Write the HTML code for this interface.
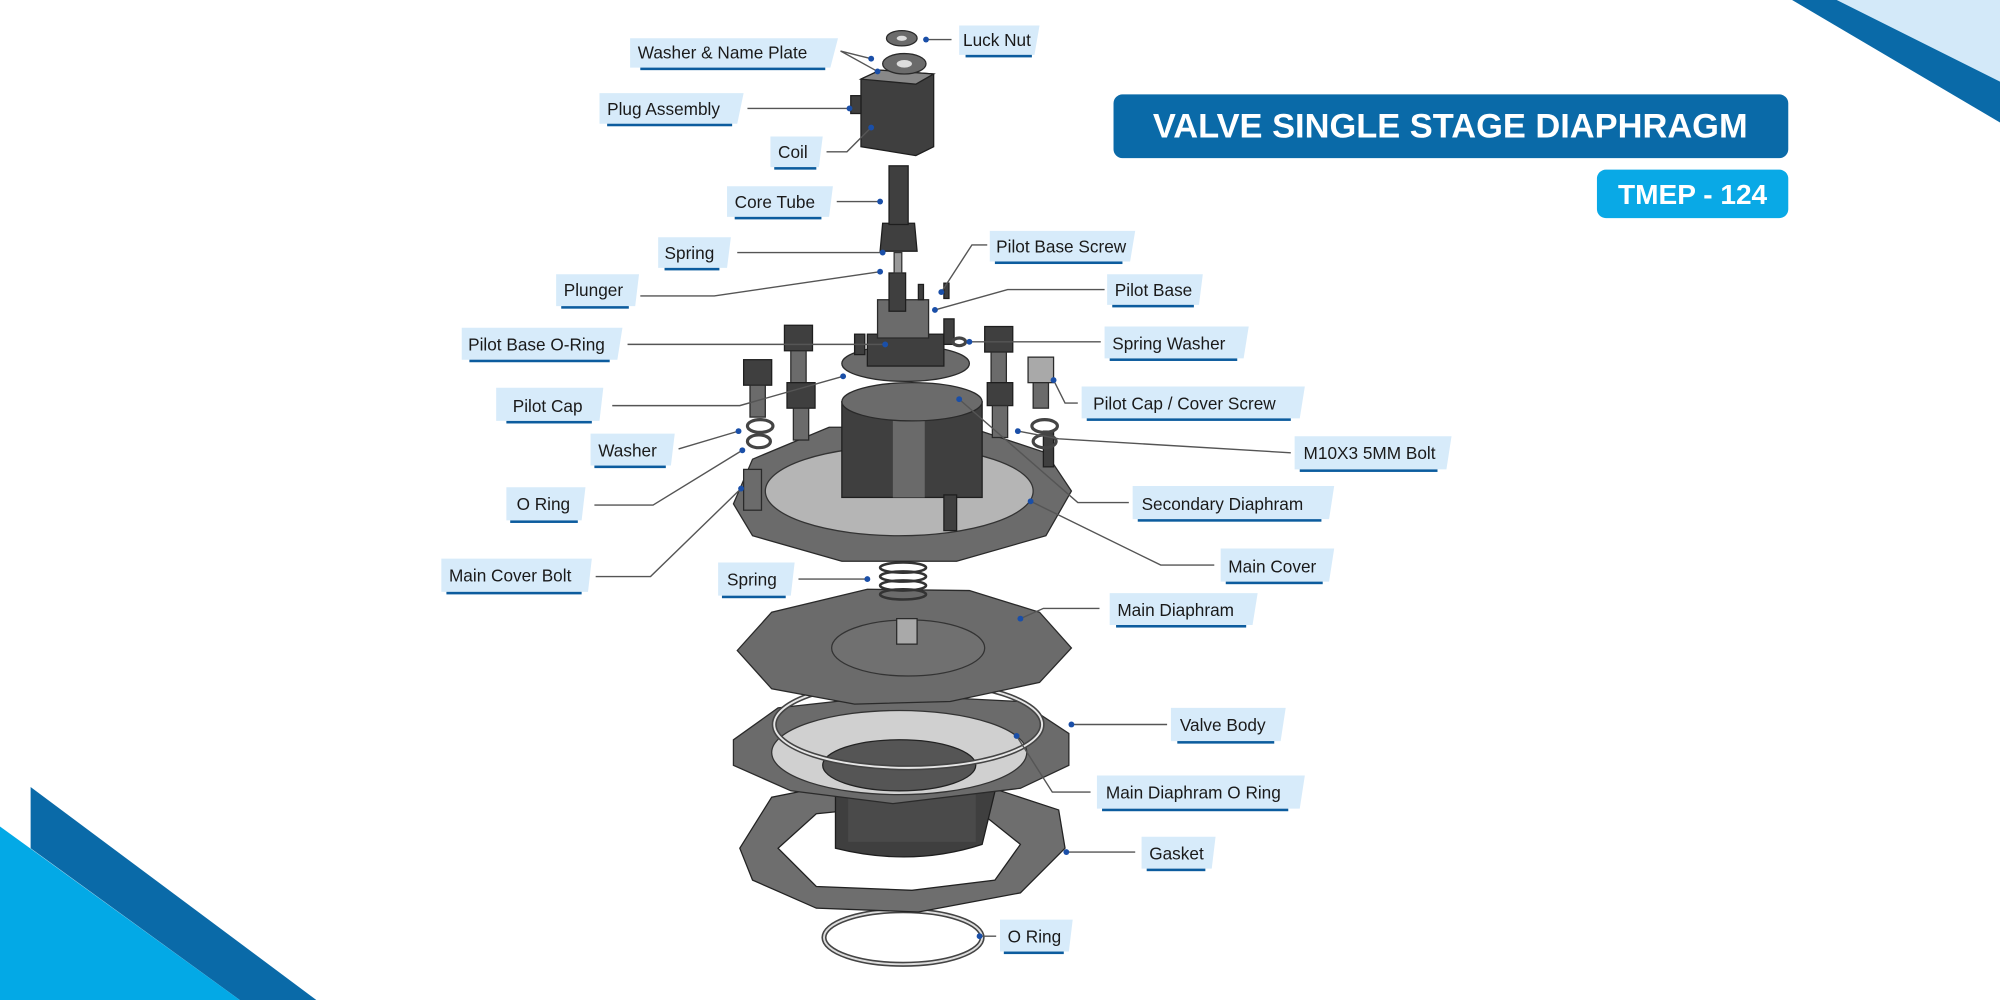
<!DOCTYPE html>
<html><head><meta charset="utf-8"><style>
html,body{margin:0;padding:0;background:#fff;}
svg{display:block;}
text{font-family:"Liberation Sans",sans-serif;}
.lb{fill:#d7ebfa;}
.ul{fill:#0c5c9e;}
.t{font-size:13.5px;fill:#1a1a1a;}
.ln{stroke:#555;stroke-width:1.1;fill:none;}
.dot{fill:#1a4fa8;}
.m{fill:#6b6b6b;stroke:#2a2a2a;stroke-width:1;}
.d{fill:#3f3f3f;stroke:#1e1e1e;stroke-width:1;}
.l{fill:#a9a9a9;stroke:#2a2a2a;stroke-width:1;}
</style></head><body>
<svg width="2000" height="1000" viewBox="0 0 1568 784" xmlns="http://www.w3.org/2000/svg">
<rect width="1568" height="784" fill="#fff"/>
<!-- corner decorations -->
<polygon points="1440,0 1568,0 1568,64" fill="#d3e9f9"/>
<polygon points="1405,0 1440,0 1568,64 1568,96" fill="#0a6aa8"/>
<polygon points="24,617 248,784 188,784 24,665" fill="#0a6aa8"/>
<polygon points="0,648 188,784 0,784" fill="#03a9e6"/>
<!-- title -->
<rect x="873" y="74" width="529" height="50" rx="7" fill="#0a6aa8"/>
<text x="1137" y="108" text-anchor="middle" font-size="27" font-weight="bold" fill="#fff">VALVE SINGLE STAGE DIAPHRAGM</text>
<rect x="1252" y="133" width="150" height="38" rx="7" fill="#09a9e6"/>
<text x="1327" y="160" text-anchor="middle" font-size="22" font-weight="bold" fill="#fff">TMEP - 124</text>

<!-- machine drawing (approximation) -->
<g>
<!-- bottom O ring -->
<ellipse cx="708" cy="735" rx="62" ry="21" fill="none" stroke="#444" stroke-width="4"/>
<ellipse cx="708" cy="735" rx="62" ry="21" fill="none" stroke="#ddd" stroke-width="1.5"/>
<!-- gasket -->
<path d="M580,665 L605,625 L670,612 L760,612 L830,635 L835,665 L800,700 L720,715 L640,712 L590,690 Z M610,665 L640,638 L700,632 L770,638 L800,662 L780,690 L715,698 L640,695 Z" fill="#6e6e6e" stroke="#222" fill-rule="evenodd"/>
<!-- valve body -->
<path d="M655,600 L655,665 Q715,680 770,662 L785,600 Z" class="d"/>
<rect x="665" y="600" width="100" height="60" fill="#4a4a4a"/>
<path d="M575,580 L610,555 L700,545 L800,550 L838,575 L838,600 L800,618 L700,630 L620,620 L575,600 Z" class="m"/>
<ellipse cx="705" cy="590" rx="100" ry="33" fill="#d0d0d0" stroke="#333"/>
<ellipse cx="705" cy="600" rx="60" ry="20" fill="#555" stroke="#222"/>
<!-- big O ring -->
<ellipse cx="712" cy="568" rx="105" ry="34" fill="none" stroke="#444" stroke-width="4"/>
<ellipse cx="712" cy="568" rx="105" ry="34" fill="none" stroke="#e6e6e6" stroke-width="1.5"/>
<!-- main diaphragm -->
<path d="M578,510 L605,480 L680,462 L760,463 L815,480 L840,508 L815,535 L745,550 L670,552 L605,540 Z" class="m"/>
<ellipse cx="712" cy="508" rx="60" ry="22" fill="#707070" stroke="#333"/>
<rect x="703" y="485" width="16" height="20" class="l"/>
<!-- spring -->
<g stroke="#333" stroke-width="2" fill="none">
<ellipse cx="708" cy="445" rx="18" ry="4"/><ellipse cx="708" cy="452" rx="18" ry="4"/><ellipse cx="708" cy="459" rx="18" ry="4"/><ellipse cx="708" cy="466" rx="18" ry="4"/></g>
<!-- main cover -->
<path d="M575,395 L590,360 L650,335 L760,335 L820,355 L840,385 L820,420 L750,440 L660,440 L590,420 Z" class="m"/>
<ellipse cx="705" cy="385" rx="105" ry="35" fill="#b5b5b5" stroke="#333"/>
<rect x="660" y="315" width="110" height="75" class="d"/>
<rect x="700" y="320" width="25" height="70" fill="#6a6a6a"/>
<ellipse cx="715" cy="315" rx="55" ry="15" class="m"/>
<!-- pilot cap / base -->
<ellipse cx="710" cy="285" rx="50" ry="14" class="m"/>
<rect x="680" y="262" width="60" height="25" class="d"/>
<rect x="688" y="235" width="40" height="30" class="m"/>
<!-- plunger, spring, core tube -->
<rect x="697" y="214" width="13" height="30" class="d"/>
<rect x="701" y="198" width="6" height="16" fill="#999" stroke="#333"/>
<path d="M692,175 L717,175 L719,197 L690,197 Z" class="d"/>
<rect x="697" y="130" width="15" height="46" class="d"/>
<!-- coil -->
<path d="M675,62 L690,55 L732,58 L732,115 L718,122 L675,115 Z" class="d"/>
<path d="M675,62 L690,55 L732,58 L718,66 Z" fill="#888" stroke="#222"/>
<rect x="667" y="75" width="8" height="14" class="d"/>
<!-- plate & nut -->
<ellipse cx="709" cy="50" rx="17" ry="8" class="m"/><ellipse cx="709" cy="50" rx="6" ry="3" fill="#ddd"/>
<ellipse cx="707" cy="30" rx="12" ry="6" class="m"/><ellipse cx="707" cy="30" rx="4" ry="2" fill="#ddd"/>
<!-- bolts -->
<g>
<rect x="615" y="255" width="22" height="20" class="d"/><rect x="620" y="275" width="12" height="25" class="m"/>
<rect x="583" y="282" width="22" height="20" class="d"/><rect x="588" y="302" width="12" height="25" class="m"/>
<rect x="617" y="300" width="22" height="20" class="d"/><rect x="622" y="320" width="12" height="25" class="m"/>
<rect x="772" y="256" width="22" height="20" class="d"/><rect x="777" y="276" width="12" height="25" class="m"/>
<rect x="806" y="280" width="20" height="20" class="l"/><rect x="810" y="300" width="12" height="20" class="m"/>
<rect x="774" y="300" width="20" height="18" class="d"/><rect x="778" y="318" width="12" height="25" class="m"/>
<rect x="818" y="338" width="8" height="28" class="d"/>
<rect x="583" y="368" width="14" height="32" class="m"/>
<rect x="740" y="388" width="10" height="28" class="d"/>
<rect x="740" y="250" width="8" height="20" class="d"/>
<rect x="720" y="223" width="4" height="12" class="d"/><rect x="740" y="222" width="4" height="12" class="d"/>
<rect x="670" y="262" width="8" height="16" class="d"/>
</g>
<g fill="none" stroke="#444" stroke-width="2.5">
<ellipse cx="596" cy="334" rx="10" ry="5"/><ellipse cx="595" cy="346" rx="9" ry="5"/>
<ellipse cx="819" cy="334" rx="10" ry="5"/><ellipse cx="819" cy="346" rx="9" ry="5"/>
<ellipse cx="752" cy="268" rx="5" ry="3"/>
</g>
</g>

<!-- labels -->
<g>
<!-- helper: box, underline, text -->
<polygon class="lb" points="752,20 815,20 811,43 752,43"/><rect class="ul" x="757" y="43" width="52" height="2"/><text class="t" x="755" y="36">Luck Nut</text>
<line class="ln" x1="727" y1="31" x2="746" y2="31"/><circle class="dot" cx="726" cy="31" r="2.3"/>

<polygon class="lb" points="494,30 657,30 651,53 494,53"/><rect class="ul" x="502" y="53" width="145" height="2"/><text class="t" x="500" y="46">Washer &amp; Name Plate</text>
<polyline class="ln" points="683,46 659,40 688,56"/><circle class="dot" cx="683" cy="46" r="2.3"/><circle class="dot" cx="688" cy="56" r="2.3"/>

<polygon class="lb" points="470,73 583,73 578,97 470,97"/><rect class="ul" x="476" y="97" width="98" height="2"/><text class="t" x="476" y="90">Plug Assembly</text>
<line class="ln" x1="586" y1="85" x2="666" y2="85"/><circle class="dot" cx="666" cy="85" r="2.3"/>

<polygon class="lb" points="604,107 645,107 642,131 604,131"/><rect class="ul" x="607" y="131" width="33" height="2"/><text class="t" x="610" y="124">Coil</text>
<polyline class="ln" points="648,119 664,119 683,100"/><circle class="dot" cx="683" cy="100" r="2.3"/>

<polygon class="lb" points="570,146 653,146 650,170 570,170"/><rect class="ul" x="576" y="170" width="68" height="2"/><text class="t" x="576" y="163">Core Tube</text>
<line class="ln" x1="656" y1="158" x2="690" y2="158"/><circle class="dot" cx="690" cy="158" r="2.3"/>

<polygon class="lb" points="516,186 573,186 570,210 516,210"/><rect class="ul" x="521" y="210" width="43" height="2"/><text class="t" x="521" y="203">Spring</text>
<line class="ln" x1="578" y1="198" x2="692" y2="198"/><circle class="dot" cx="692" cy="198" r="2.3"/>

<polygon class="lb" points="436,215 501,215 498,240 436,240"/><rect class="ul" x="440" y="240" width="53" height="2"/><text class="t" x="442" y="232">Plunger</text>
<polyline class="ln" points="502,232 560,232 690,213"/><circle class="dot" cx="690" cy="213" r="2.3"/>

<polygon class="lb" points="776,181 890,181 886,205 776,205"/><rect class="ul" x="780" y="205" width="100" height="2"/><text class="t" x="781" y="198">Pilot Base Screw</text>
<polyline class="ln" points="774,192 762,192 738,229"/><circle class="dot" cx="738" cy="229" r="2.3"/>

<polygon class="lb" points="868,215 943,215 940,239 868,239"/><rect class="ul" x="872" y="239" width="64" height="2"/><text class="t" x="874" y="232">Pilot Base</text>
<polyline class="ln" points="866,227 790,227 733,243"/><circle class="dot" cx="733" cy="243" r="2.3"/>

<polygon class="lb" points="362,257 488,257 484,282 362,282"/><rect class="ul" x="368" y="282" width="110" height="2"/><text class="t" x="367" y="275">Pilot Base O-Ring</text>
<line class="ln" x1="492" y1="270" x2="694" y2="270"/><circle class="dot" cx="694" cy="270" r="2.3"/>

<polygon class="lb" points="866,256 979,256 975,281 866,281"/><rect class="ul" x="870" y="281" width="100" height="2"/><text class="t" x="872" y="274">Spring Washer</text>
<line class="ln" x1="863" y1="268" x2="760" y2="268"/><circle class="dot" cx="760" cy="268" r="2.3"/>

<polygon class="lb" points="389,304 473,304 470,330 389,330"/><rect class="ul" x="397" y="330" width="67" height="2"/><text class="t" x="402" y="323">Pilot Cap</text>
<polyline class="ln" points="480,318 580,318 661,295"/><circle class="dot" cx="661" cy="295" r="2.3"/>

<polygon class="lb" points="848,303 1023,303 1019,328 848,328"/><rect class="ul" x="852" y="328" width="160" height="2"/><text class="t" x="857" y="321">Pilot Cap / Cover Screw</text>
<polyline class="ln" points="845,316 835,316 826,298"/><circle class="dot" cx="826" cy="298" r="2.3"/>

<polygon class="lb" points="463,340 529,340 526,365 463,365"/><rect class="ul" x="466" y="365" width="56" height="2"/><text class="t" x="469" y="358">Washer</text>
<line class="ln" x1="532" y1="352" x2="579" y2="338"/><circle class="dot" cx="579" cy="338" r="2.3"/>

<polygon class="lb" points="1015,342 1138,342 1134,368 1015,368"/><rect class="ul" x="1019" y="368" width="108" height="2"/><text class="t" x="1022" y="360">M10X3 5MM Bolt</text>
<polyline class="ln" points="1012,355 830,344 798,338"/><circle class="dot" cx="798" cy="338" r="2.3"/>

<polygon class="lb" points="397,382 459,382 456,408 397,408"/><rect class="ul" x="400" y="408" width="53" height="2"/><text class="t" x="405" y="400">O Ring</text>
<polyline class="ln" points="466,396 512,396 582,353"/><circle class="dot" cx="582" cy="353" r="2.3"/>

<polygon class="lb" points="888,381 1046,381 1042,407 888,407"/><rect class="ul" x="892" y="407" width="144" height="2"/><text class="t" x="895" y="400">Secondary Diaphram</text>
<polyline class="ln" points="885,394 845,394 752,313"/><circle class="dot" cx="752" cy="313" r="2.3"/>

<polygon class="lb" points="346,438 464,438 461,464 346,464"/><rect class="ul" x="350" y="464" width="106" height="2"/><text class="t" x="352" y="456">Main Cover Bolt</text>
<polyline class="ln" points="467,452 510,452 581,383"/><circle class="dot" cx="581" cy="383" r="2.3"/>

<polygon class="lb" points="957,430 1046,430 1042,456 957,456"/><rect class="ul" x="961" y="456" width="76" height="2"/><text class="t" x="963" y="449">Main Cover</text>
<polyline class="ln" points="952,443 910,443 808,393"/><circle class="dot" cx="808" cy="393" r="2.3"/>

<polygon class="lb" points="563,441 623,441 620,467 563,467"/><rect class="ul" x="566" y="467" width="50" height="2"/><text class="t" x="570" y="459">Spring</text>
<line class="ln" x1="626" y1="454" x2="680" y2="454"/><circle class="dot" cx="680" cy="454" r="2.3"/>

<polygon class="lb" points="870,465 986,465 982,490 870,490"/><rect class="ul" x="875" y="490" width="102" height="2"/><text class="t" x="876" y="483">Main Diaphram</text>
<polyline class="ln" points="862,477 818,477 800,485"/><circle class="dot" cx="800" cy="485" r="2.3"/>

<polygon class="lb" points="918,555 1008,555 1004,581 918,581"/><rect class="ul" x="923" y="581" width="76" height="2"/><text class="t" x="925" y="573">Valve Body</text>
<line class="ln" x1="915" y1="568" x2="840" y2="568"/><circle class="dot" cx="840" cy="568" r="2.3"/>

<polygon class="lb" points="860,608 1023,608 1019,634 860,634"/><rect class="ul" x="864" y="634" width="146" height="2"/><text class="t" x="867" y="626">Main Diaphram O Ring</text>
<polyline class="ln" points="855,621 825,621 797,577"/><circle class="dot" cx="797" cy="577" r="2.3"/>

<polygon class="lb" points="895,656 953,656 950,681 895,681"/><rect class="ul" x="899" y="681" width="46" height="2"/><text class="t" x="901" y="674">Gasket</text>
<line class="ln" x1="890" y1="668" x2="836" y2="668"/><circle class="dot" cx="836" cy="668" r="2.3"/>

<polygon class="lb" points="784,721 841,721 838,746 784,746"/><rect class="ul" x="787" y="746" width="47" height="2"/><text class="t" x="790" y="739">O Ring</text>
<line class="ln" x1="781" y1="734" x2="768" y2="734"/><circle class="dot" cx="768" cy="734" r="2.3"/>
</g>
</svg>
</body></html>
